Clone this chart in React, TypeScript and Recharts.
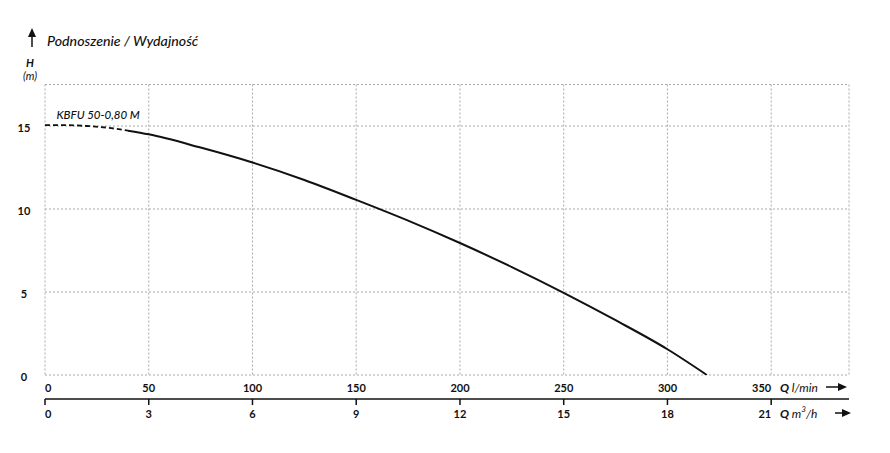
import React from 'react'
import { LineChart, Line, XAxis, YAxis, CartesianGrid, ReferenceDot } from 'recharts'

// Q [l/min] vs H [m]
const Q_DASHED = [0, 10, 20, 30, 40]
const H_DASHED = [15.05, 15.05, 15.0, 14.9, 14.72]
const Q_SOLID = [40, 50, 75, 100, 125, 150, 175, 200, 225, 250, 275, 300, 319]
const H_SOLID = [14.72, 14.5, 13.7, 12.8, 11.75, 10.55, 9.3, 7.95, 6.5, 4.95, 3.3, 1.55, 0]

const Q_TICKS = [0, 50, 100, 150, 200, 250, 300, 350]
const M3H_TICKS = [0, 3, 6, 9, 12, 15, 18, 21]
const H_TICKS = [0, 5, 10, 15]
const Q_MAX = 387.5
const H_MAX = 17.5

const SERIES_NAME = 'KBFU 50-0,80 M'
const FONT = 'Lato, "Open Sans", sans-serif'

const dashedData = Q_DASHED.map((q, i) => ({ q, h: H_DASHED[i] }))
const solidData = Q_SOLID.map((q, i) => ({ q, h: H_SOLID[i] }))

function anchorFor(i: number, n: number) {
  if (i === 0) return 'start'
  if (i === n - 1) return 'end'
  return 'middle'
}

function QTick({ x, y, payload }: any) {
  const i = Q_TICKS.indexOf(payload.value)
  if (i < 0) return null
  return (
    <text x={x} y={y + 12} textAnchor={anchorFor(i, Q_TICKS.length)} dominantBaseline="central"
          fontFamily={FONT} fontWeight={700} fontSize={11} fill="#111">
      {Q_TICKS[i]}
    </text>
  )
}

function M3Tick({ x, y, index }: any) {
  return (
    <text x={x} y={y + 8} textAnchor={anchorFor(index, M3H_TICKS.length)} dominantBaseline="central"
          fontFamily={FONT} fontWeight={700} fontSize={11} fill="#111">
      {M3H_TICKS[index]}
    </text>
  )
}

function HTick({ y, payload }: any) {
  if (!H_TICKS.includes(payload.value)) return null
  return (
    <text x={24} y={y + 1} textAnchor="middle" dominantBaseline="central"
          fontFamily={FONT} fontWeight={700} fontSize={11} fill="#111">
      {payload.value}
    </text>
  )
}

function Arrow({ x1, x2, y }: { x1: number; x2: number; y: number }) {
  return (
    <g>
      <line x1={x1} y1={y} x2={x2 - 6} y2={y} stroke="#111" strokeWidth={1.5} />
      <polygon points={`${x2},${y} ${x2 - 9},${y - 4} ${x2 - 9},${y + 4}`} fill="#111" />
    </g>
  )
}

export default function App() {
  return (
    <div style={{ position: 'absolute', left: 0, top: 0, width: 890, height: 453, background: '#fff' }}>
      <LineChart width={890} height={453} margin={{ top: 84.5, right: 41, left: 0, bottom: 24 }}>
        <CartesianGrid stroke="#aaa" strokeDasharray="2 2" strokeWidth={1} />
        <XAxis dataKey="q" type="number" domain={[0, Q_MAX]} ticks={[...Q_TICKS, Q_MAX]}
               height={24} axisLine={false} tickLine={false} tickSize={0} tickMargin={0}
               tick={<QTick />} allowDataOverflow />
        <XAxis xAxisId="m3" dataKey="q" type="number" domain={[0, Q_MAX]}
               ticks={M3H_TICKS.map(m => (m * 50) / 3)} height={30}
               axisLine={{ stroke: '#111', strokeWidth: 1.5 }}
               tickLine={{ stroke: '#111', strokeWidth: 1.5 }} tickSize={6} tickMargin={0}
               tick={<M3Tick />} allowDataOverflow />
        <YAxis type="number" domain={[0, H_MAX]} ticks={[...H_TICKS, H_MAX]} width={45}
               axisLine={false} tickLine={false} tick={<HTick />} allowDataOverflow />
        <Line data={dashedData} dataKey="h" type="monotone" stroke="#111" strokeWidth={1.8}
              strokeDasharray="5 3" dot={false} isAnimationActive={false} />
        <Line data={solidData} dataKey="h" type="monotone" stroke="#111" strokeWidth={2}
              dot={false} isAnimationActive={false} />
        <ReferenceDot x={5.5} y={15.66} r={0} fill="none" stroke="none"
                      label={{ value: SERIES_NAME, position: 'right', offset: 0, fill: '#111',
                               fontSize: 11.5, fontStyle: 'italic', fontFamily: FONT, fontWeight: 500 }} />
      </LineChart>

      <svg width={890} height={453} style={{ position: 'absolute', left: 0, top: 0, pointerEvents: 'none' }}>
        <line x1={32} y1={47} x2={32} y2={34} stroke="#111" strokeWidth={1.5} />
        <polygon points="32,28 28,37 36,37" fill="#111" />
        <text x={47} y={40} dominantBaseline="central" fontFamily={FONT} fontStyle="italic"
              fontWeight={500} fontSize={14.2} fill="#111">Podnoszenie / Wydajność</text>
        <text x={30} y={62} textAnchor="middle" dominantBaseline="central" fontFamily={FONT}
              fontStyle="italic" fontWeight={700} fontSize={11} fill="#111">H</text>
        <text x={30} y={75} textAnchor="middle" dominantBaseline="central" fontFamily={FONT}
              fontStyle="italic" fontSize={11} fill="#111">(m)</text>

        <text x={780} y={387} dominantBaseline="central" fontFamily={FONT} fontStyle="italic"
              fontSize={12} fill="#111">
          <tspan fontWeight={700}>Q</tspan> l/min
        </text>
        <Arrow x1={826} x2={847} y={387} />
        <text x={780} y={413} dominantBaseline="central" fontFamily={FONT} fontStyle="italic"
              fontSize={12} fill="#111">
          <tspan fontWeight={700}>Q</tspan> m<tspan fontSize={8} dy={-4}>3</tspan>
          <tspan dy={4}>/h</tspan>
        </text>
        <Arrow x1={835} x2={851} y={413} />
      </svg>
    </div>
  )
}
